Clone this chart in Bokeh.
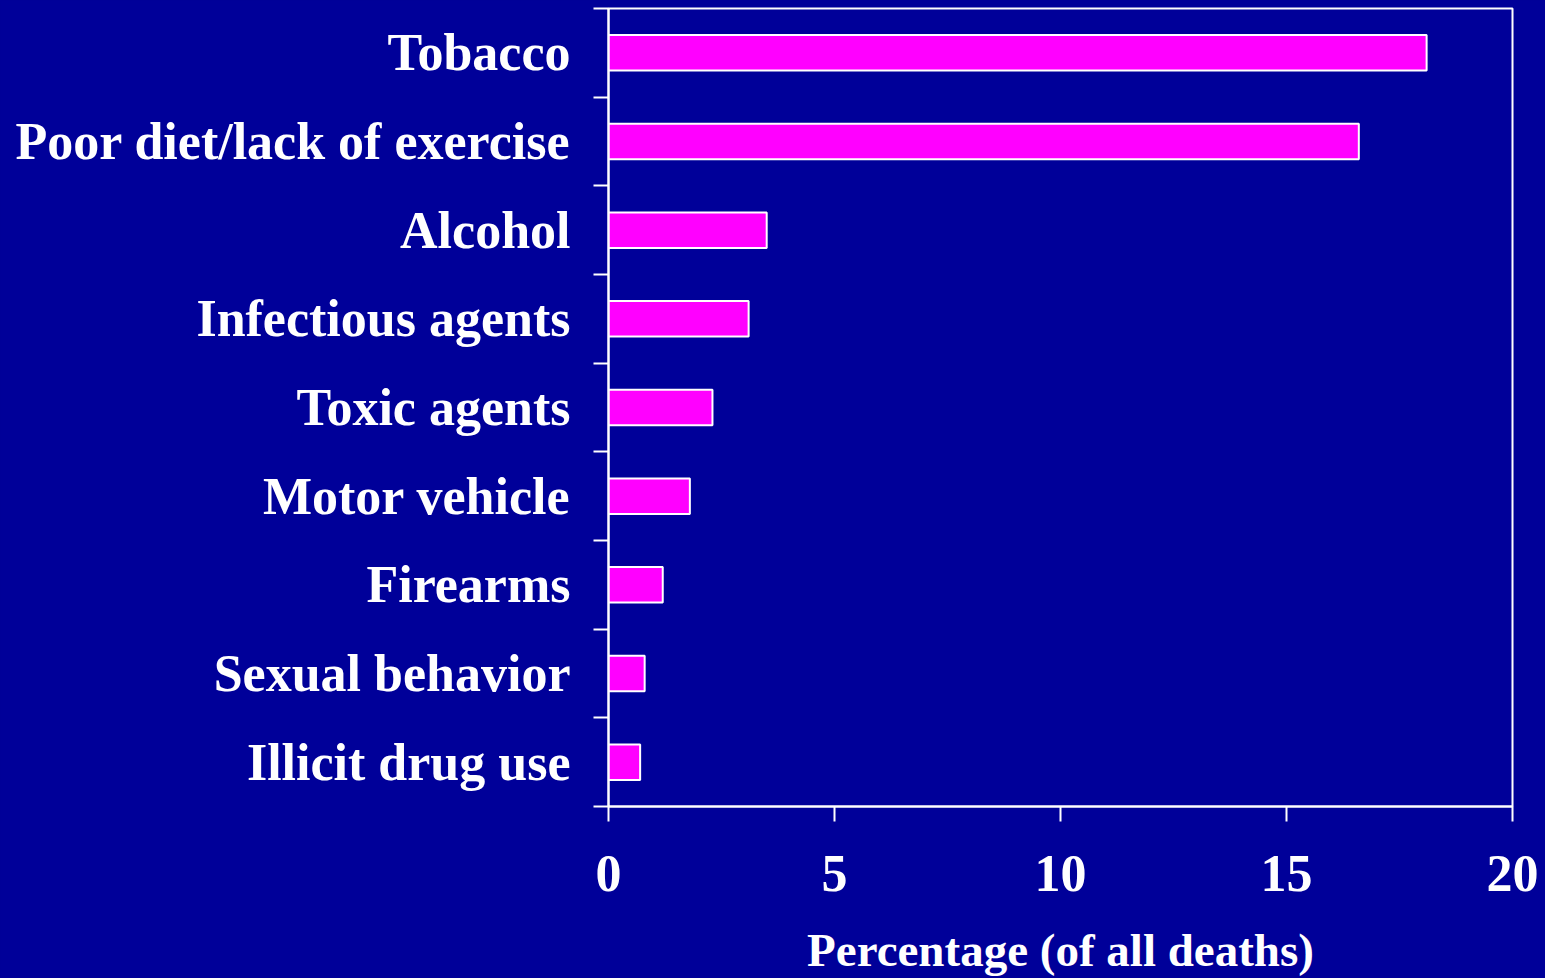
from bokeh.plotting import figure
from bokeh.models import Range1d, FixedTicker, ColumnDataSource
from bokeh.embed import file_html
from bokeh.resources import INLINE

categories = ["Tobacco", "Poor diet/lack of exercise", "Alcohol", "Infectious agents",
              "Toxic agents", "Motor vehicle", "Firearms", "Sexual behavior", "Illicit drug use"]
values = [18.1, 16.6, 3.5, 3.1, 2.3, 1.8, 1.2, 0.8, 0.7]
x_ticks = [0, 5, 10, 15, 20]

BG = "#000099"
FONT = "Liberation Serif"
n = len(categories)
ypos = [n - i - 0.5 for i in range(n)]

src = ColumnDataSource(dict(y=ypos, v=values, cat=categories))

p = figure(width=1545, height=978, output_backend="svg", toolbar_location=None,
           x_range=Range1d(0, 20), y_range=Range1d(0, n),
           min_border_left=608, min_border_right=33, min_border_top=8, min_border_bottom=172)
p.background_fill_color = BG
p.border_fill_color = BG
p.outline_line_color = "white"
p.outline_line_width = 2
p.grid.visible = False

p.hbar(y="y", right="v", left=0, height=0.4, source=src,
       fill_color="#FF00FF", line_color="white", line_width=2)

# x axis
xa = p.xaxis[0]
xa.ticker = FixedTicker(ticks=x_ticks, minor_ticks=[])
xa.axis_line_color = "white"
xa.axis_line_width = 2
xa.major_tick_line_color = "white"
xa.major_tick_line_width = 2
xa.major_tick_out = 15
xa.major_tick_in = 0
xa.minor_tick_line_color = None
xa.minor_tick_out = 0
xa.minor_tick_in = 0
xa.major_label_text_color = "white"
xa.major_label_text_font = FONT
xa.major_label_text_font_style = "bold"
xa.major_label_text_font_size = "52px"
xa.major_label_standoff = 34
xa.axis_label = "Percentage (of all deaths)"
xa.axis_label_text_color = "white"
xa.axis_label_text_font = FONT
xa.axis_label_text_font_style = "bold"
xa.axis_label_text_font_size = "47px"
xa.axis_label_standoff = 30

# y axis: labels at category centres, ticks at boundaries
ya = p.yaxis[0]
ya.ticker = FixedTicker(ticks=ypos, minor_ticks=list(range(n + 1)))
ya.major_label_overrides = {y: c for y, c in zip(ypos, categories)}
ya.axis_line_color = "white"
ya.axis_line_width = 2
ya.major_tick_line_color = None
ya.major_tick_out = 0
ya.major_tick_in = 0
ya.minor_tick_line_color = "white"
ya.minor_tick_line_width = 2
ya.minor_tick_out = 15
ya.minor_tick_in = 0
ya.major_label_text_color = "white"
ya.major_label_text_font = FONT
ya.major_label_text_font_style = "bold"
ya.major_label_text_font_size = "52px"
ya.major_label_standoff = 23

html = file_html(p, INLINE)
style = "<style>html,body{margin:0;padding:0;background:%s;overflow:hidden}</style>" % BG
html = html.replace("</head>", style + "</head>", 1)
open("out.html", "w").write(html)
